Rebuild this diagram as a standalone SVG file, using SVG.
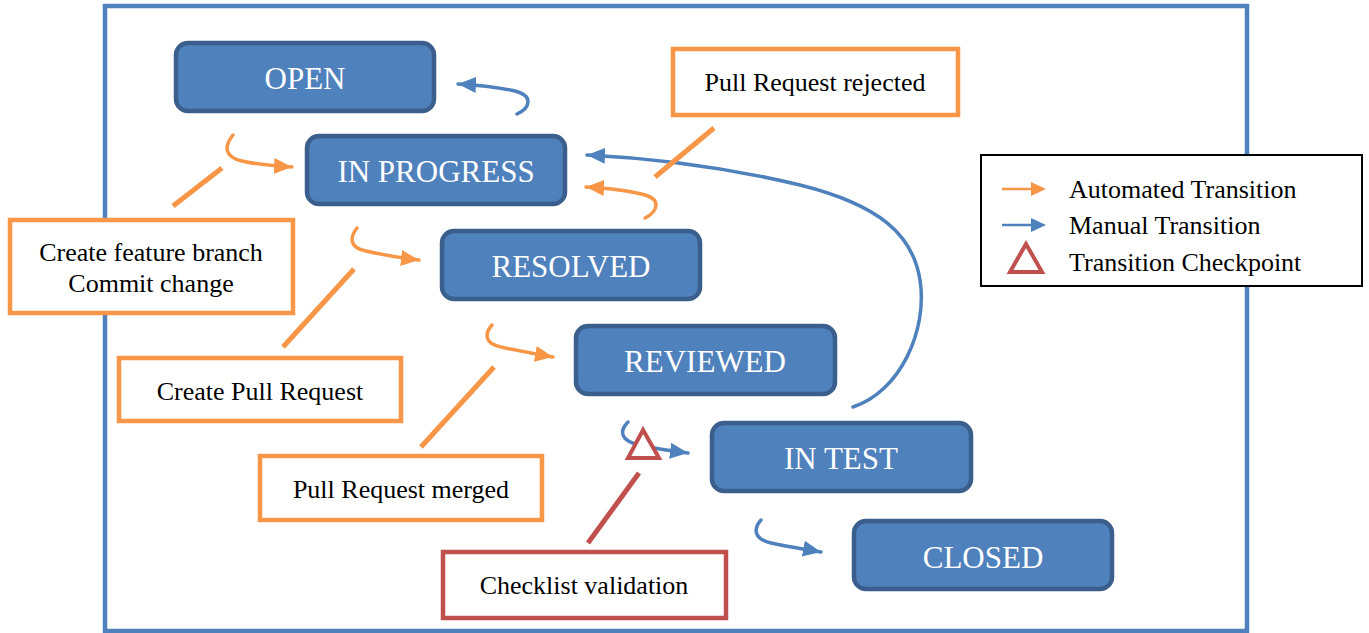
<svg xmlns="http://www.w3.org/2000/svg" width="1369" height="633" viewBox="0 0 1369 633">
<style>
.node rect{fill:#4f81bd;stroke:#3b5f8c;stroke-width:4.5}
.node text{fill:#ffffff;font-family:"Liberation Serif","Times New Roman",serif;font-size:31px;text-anchor:middle}
.lbl rect{fill:#ffffff;stroke-width:4.5}
.lbl text,.legend text{fill:#000000;font-family:"Liberation Serif","Times New Roman",serif;font-size:26px;text-anchor:middle}
.legend text{text-anchor:start}
.o{stroke:#f79646}
.r{stroke:#c0504d}
.ca{fill:none;stroke-width:3.5;stroke-linecap:round}
.co{stroke:#f79646;marker-end:url(#ao)}
.cb{stroke:#4f81bd;marker-end:url(#ab)}
.lead{fill:none;stroke-width:5}
</style>
<defs>
<marker id="ao" markerUnits="userSpaceOnUse" markerWidth="20" markerHeight="20" refX="18" refY="9" orient="auto"><path d="M0,1 L18,9 L0,17 z" fill="#f79646"/></marker>
<marker id="ab" markerUnits="userSpaceOnUse" markerWidth="20" markerHeight="20" refX="18" refY="9" orient="auto"><path d="M0,1 L18,9 L0,17 z" fill="#4f81bd"/></marker>
</defs>
<rect id="frame" x="105" y="6" width="1142" height="625" fill="none" stroke="#4f81bd" stroke-width="4.5"/>
<g id="connectors">
<path class="ca co" d="M233,135 C224,146 224,157 242,161 C258,165 275,166 292,167"/>
<path class="ca cb" d="M517,114 C530,108 534,96 515,91 C497,87 478,85 458,84"/>
<path class="ca co" d="M645,218 C657,212 662,200 645,195 C627,190 606,188 586,187"/>
<path class="ca cb" d="M853,407 C900,392 928,330 920,280 C913,235 880,205 800,185 C720,166 650,158 587,155"/>
<path class="ca co" d="M357,228 C349,238 350,248 366,251 C383,255 401,258 419,260"/>
<path class="ca co" d="M492,325 C484,334 485,344 501,347 C518,351 536,354 553,357"/>
<path class="ca cb" d="M628,422 C619,431 620,441 640,445 C656,449 672,451 688,453"/>
<path class="ca cb" d="M761,520 C753,529 754,539 771,543 C788,547 805,549 821,552"/>
<line class="lead o" x1="173" y1="206" x2="222" y2="168"/>
<line class="lead o" x1="655" y1="177" x2="714" y2="128"/>
<line class="lead o" x1="283" y1="347" x2="354" y2="269"/>
<line class="lead o" x1="421" y1="447" x2="494" y2="367"/>
<line class="lead r" x1="639" y1="473" x2="588" y2="543"/>
<polygon points="643,430 628,458 659,458" fill="#ffffff" stroke="#c0504d" stroke-width="4" stroke-linejoin="miter"/>
</g>
<g id="open" class="node"><rect x="176" y="43" width="258" height="68" rx="12"/><text x="305" y="89">OPEN</text></g>
<g id="inprogress" class="node"><rect x="307" y="136" width="258" height="68" rx="12"/><text x="436" y="182">IN PROGRESS</text></g>
<g id="resolved" class="node"><rect x="442" y="231" width="258" height="68" rx="12"/><text x="571" y="277">RESOLVED</text></g>
<g id="reviewed" class="node"><rect x="576" y="326" width="259" height="68" rx="12"/><text x="705" y="372">REVIEWED</text></g>
<g id="intest" class="node"><rect x="712" y="423" width="259" height="68" rx="12"/><text x="841" y="469">IN TEST</text></g>
<g id="closed" class="node"><rect x="854" y="521" width="258" height="68" rx="12"/><text x="983" y="568">CLOSED</text></g>
<g id="lbl-rejected" class="lbl"><rect class="o" x="673" y="49" width="285" height="66"/><text x="815" y="91">Pull Request rejected</text></g>
<g id="lbl-feature" class="lbl"><rect class="o" x="10" y="220" width="283" height="93"/><text x="151" y="261">Create feature branch</text><text x="151" y="292">Commit change</text></g>
<g id="lbl-createpr" class="lbl"><rect class="o" x="119" y="358" width="282" height="63"/><text x="260" y="400">Create Pull Request</text></g>
<g id="lbl-merged" class="lbl"><rect class="o" x="260" y="456" width="282" height="64"/><text x="401" y="498">Pull Request merged</text></g>
<g id="lbl-checklist" class="lbl"><rect class="r" x="443" y="552" width="283" height="66"/><text x="584" y="594">Checklist validation</text></g>
<g id="legend" class="legend">
<rect x="981" y="155" width="381" height="131" fill="#ffffff" stroke="#000000" stroke-width="2"/>
<line x1="1002" y1="189" x2="1034" y2="189" stroke="#f79646" stroke-width="2.5"/>
<path d="M1031,182 L1046,189 L1031,196 z" fill="#f79646"/>
<line x1="1002" y1="225" x2="1034" y2="225" stroke="#4f81bd" stroke-width="2.5"/>
<path d="M1031,218 L1046,225 L1031,232 z" fill="#4f81bd"/>
<polygon points="1026,244 1010,272 1042,272" fill="none" stroke="#c0504d" stroke-width="4"/>
<text x="1069" y="198">Automated Transition</text>
<text x="1069" y="234">Manual Transition</text>
<text x="1069" y="271">Transition Checkpoint</text>
</g>
</svg>
